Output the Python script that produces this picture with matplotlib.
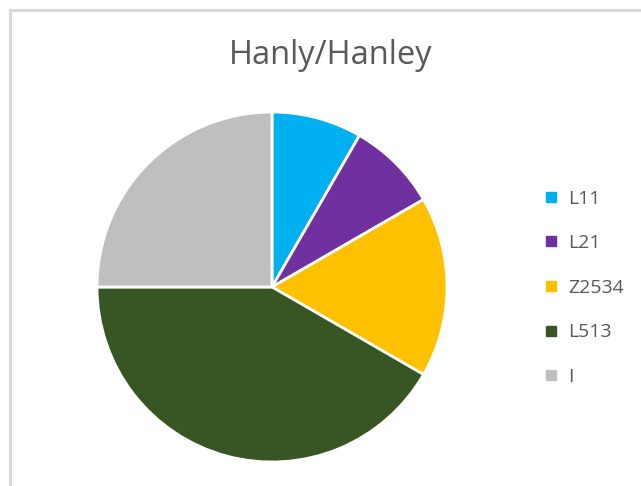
import matplotlib.pyplot as plt
from matplotlib.lines import Line2D

labels = ['L11', 'L21', 'Z2534', 'L513', 'I']
counts = [1, 1, 2, 5, 3]
colors = ['#00B0F0', '#7030A0', '#FFC000', '#375623', '#BFBFBF']

W, H = 641, 486
fig = plt.figure(figsize=(W / 100, H / 100), dpi=100)
fig.patch.set_facecolor('white')

# chart frame (left and top edges visible)
fig.add_artist(Line2D([9.5 / W, 9.5 / W], [0, 1 - 10.5 / H], color='#D9D9D9', lw=2.2))
fig.add_artist(Line2D([9.5 / W, 1.0], [1 - 10.5 / H, 1 - 10.5 / H], color='#D9D9D9', lw=2.2))

cx, cy, r = 272, 287, 175
ax = fig.add_axes([(cx - r) / W, (H - cy - r) / H, 2 * r / W, 2 * r / H])
ax.pie(counts, colors=colors, startangle=90, counterclock=False, radius=1,
       wedgeprops=dict(edgecolor='white', linewidth=2))
ax.set_xlim(-1.0, 1.0)
ax.set_ylim(-1.0, 1.0)
ax.axis('off')

fig.text(331 / W, 1 - 56 / H, 'Hanly/Hanley', ha='center', va='center',
         fontsize=23.5, color='#595959', family='Open Sans')

handles = [Line2D([], [], marker='s', linestyle='none', markersize=7,
                  markerfacecolor=c, markeredgecolor=c) for c in colors]
leg = fig.legend(handles, labels, loc='upper left',
                 bbox_to_anchor=(526 / W, 1 - 172 / H), frameon=False,
                 handlelength=0.8, handletextpad=0.45, labelspacing=1.37,
                 prop={'family': 'Open Sans', 'size': 14})
for t in leg.get_texts():
    t.set_color('#595959')

fig.savefig('out.png', dpi=100, facecolor='white')
